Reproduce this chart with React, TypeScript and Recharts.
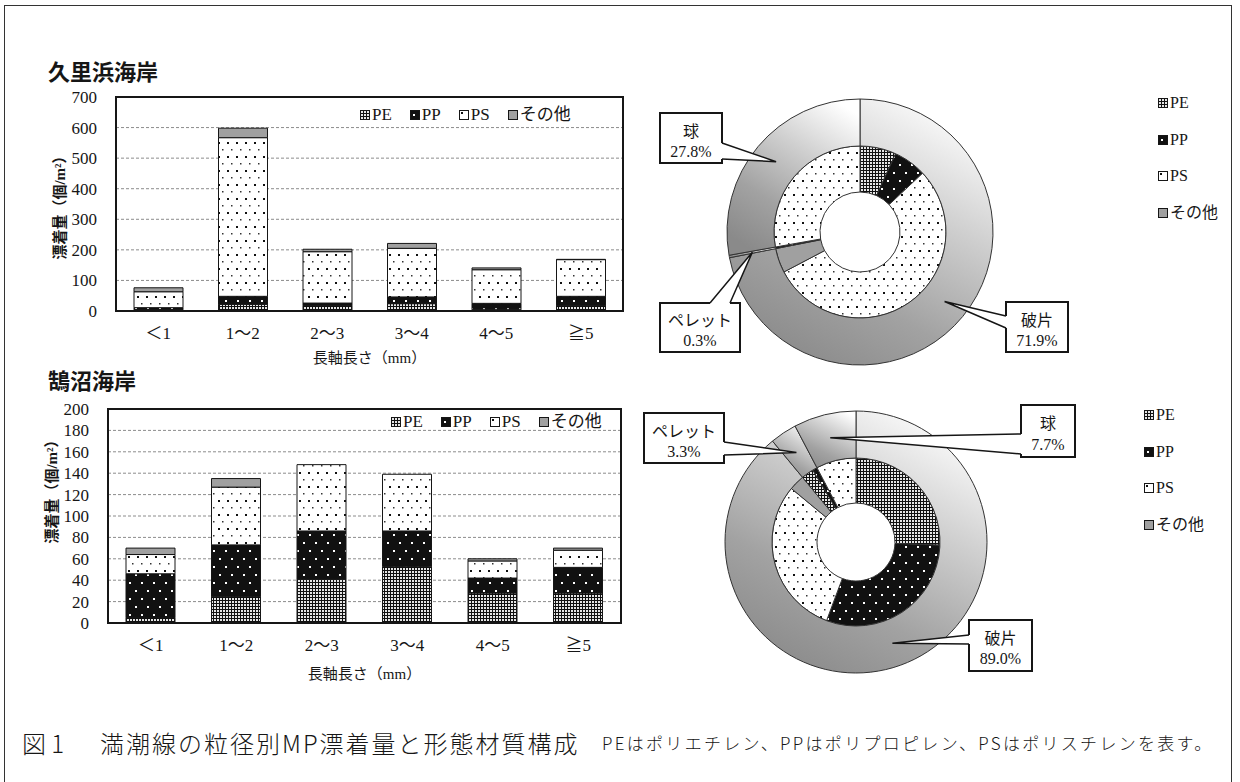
import React from "react";
import {
  BarChart,
  Bar,
  XAxis,
  YAxis,
  CartesianGrid,
  Legend,
  ReferenceArea,
  PieChart,
  Pie,
  Cell,
} from "recharts";

const SERIF = "'Liberation Serif', 'Noto Sans CJK JP', serif";
const CJK = "'Noto Sans CJK JP', 'Noto Sans CJK SC', sans-serif";
const INK = "#161616";

// 粒径区分と材質
const sizeClasses = ["＜1", "1～2", "2～3", "3～4", "4～5", "≧5"];
const materials = ["PE", "PP", "PS", "その他"];

// 久里浜海岸 漂着量（個/m²）
const kurihamaPE = [5, 22, 17, 24, 6, 17];
const kurihamaPP = [6, 26, 9, 22, 19, 31];
const kurihamaPS = [52, 519, 168, 159, 110, 120];
const kurihamaOther = [13, 31, 8, 16, 6, 1];
const kurihamaTicks = [0, 100, 200, 300, 400, 500, 600, 700];

// 鵠沼海岸 漂着量（個/m²）
const kugenumaPE = [5, 25, 41, 53, 28, 28];
const kugenumaPP = [41, 48, 45, 33, 14, 24];
const kugenumaPS = [18, 54, 62, 53, 16, 16];
const kugenumaOther = [6, 8, 0, 0, 2, 2];
const kugenumaTicks = [0, 20, 40, 60, 80, 100, 120, 140, 160, 180, 200];

// 形態構成（%）と形態ごとの材質内訳（PE, PP, PS, その他）
const formTypes = ["破片", "ペレット", "球"];
const kurihamaForms = [71.9, 0.3, 27.8];
const kurihamaFragment = [6.8, 6.2, 54.3, 4.6];
const kurihamaPellet = [0, 0.3, 0, 0];
const kurihamaSphere = [0, 0, 27.8, 0];
const kugenumaForms = [89.0, 3.3, 7.7];
const kugenumaFragment = [25.6, 30.1, 30.3, 3.0];
const kugenumaPellet = [2.4, 0.9, 0, 0];
const kugenumaSphere = [0, 0, 7.7, 0];

const fillFor: Record<string, string> = {
  PE: "url(#patPE)",
  PP: "url(#patPP)",
  PS: "url(#patPS)",
  その他: "#a0a0a0",
};

function barRows(pe: number[], pp: number[], ps: number[], other: number[]) {
  return sizeClasses.map((s, i) => ({
    size: s,
    PE: pe[i],
    PP: pp[i],
    PS: ps[i],
    その他: other[i],
  }));
}

function innerRows(parts: number[][]) {
  const rows: { name: string; material: string; value: number }[] = [];
  parts.forEach((vals, f) => {
    vals.forEach((v, m) => {
      if (v > 0) rows.push({ name: formTypes[f] + materials[m], material: materials[m], value: v });
    });
  });
  return rows;
}

function formRows(vals: number[]) {
  return formTypes.map((f, i) => ({ name: f, value: vals[i] }));
}

// callout boxes, offsets relative to the donut centre
type Callout = { bx: number; by: number; w: number; h: number; side: string; a: number; b: number };
const kurihamaCallouts: Record<string, Callout> = {
  破片: { bx: 146, by: 70, w: 62, h: 50, side: "left", a: 14, b: 26 },
  球: { bx: -200, by: -119, w: 62, h: 50, side: "right", a: 30, b: 46 },
  ペレット: { bx: -200, by: 71, w: 80, h: 49, side: "top", a: 50, b: 70 },
};
const kugenumaCallouts: Record<string, Callout> = {
  破片: { bx: 113, by: 78, w: 63, h: 51, side: "left", a: 15, b: 24 },
  球: { bx: 165, by: -137, w: 54, h: 52, side: "left", a: 29, b: 49 },
  ペレット: { bx: -212, by: -129, w: 80, h: 50, side: "right", a: 29, b: 42 },
};

function makeCallout(cfg: Record<string, Callout>) {
  return (p: any) => {
    const c = cfg[p.name];
    if (!c) return null;
    const RAD = Math.PI / 180;
    const r = (p.innerRadius + p.outerRadius) / 2;
    const tx = p.cx + r * Math.cos(-p.midAngle * RAD);
    const ty = p.cy + r * Math.sin(-p.midAngle * RAD);
    const x = p.cx + c.bx;
    const y = p.cy + c.by;
    let a: number[], b: number[];
    if (c.side === "left") {
      a = [x, y + c.a];
      b = [x, y + c.b];
    } else if (c.side === "right") {
      a = [x + c.w, y + c.a];
      b = [x + c.w, y + c.b];
    } else {
      a = [x + c.a, y];
      b = [x + c.b, y];
    }
    return (
      <g>
        <rect x={x} y={y} width={c.w} height={c.h} fill="#fff" stroke={INK} strokeWidth={2} />
        <polygon points={`${a[0]},${a[1]} ${tx},${ty} ${b[0]},${b[1]}`} fill="#fff" stroke="none" />
        <line x1={a[0]} y1={a[1]} x2={b[0]} y2={b[1]} stroke="#fff" strokeWidth={3} />
        <polyline points={`${a[0]},${a[1]} ${tx},${ty} ${b[0]},${b[1]}`} fill="none" stroke={INK} strokeWidth={1.5} />
        <text x={x + c.w / 2} y={y + c.h * 0.33} textAnchor="middle" dominantBaseline="central" fontFamily={CJK} fontSize={16} fill={INK}>
          {p.name}
        </text>
        <text x={x + c.w / 2} y={y + c.h * 0.76} textAnchor="middle" dominantBaseline="central" fontFamily={SERIF} fontSize={16} fill={INK}>
          {`${Number(p.value).toFixed(1)}%`}
        </text>
      </g>
    );
  };
}

function Swatch({ m }: { m: string }) {
  return (
    <svg width={10} height={10} style={{ marginRight: 2, flex: "none" }}>
      <rect x={0.5} y={0.5} width={9} height={9} fill={fillFor[m]} stroke={INK} strokeWidth={1} />
    </svg>
  );
}

function BarLegend() {
  return (
    <div style={{ display: "flex", alignItems: "center", fontFamily: SERIF, fontSize: 17, color: INK, lineHeight: "20px" }}>
      {materials.map((m) => (
        <span key={m} style={{ display: "flex", alignItems: "center", marginRight: 18 }}>
          <Swatch m={m} />
          {m}
        </span>
      ))}
    </div>
  );
}

function PieLegend() {
  return (
    <div style={{ fontFamily: SERIF, fontSize: 16, color: INK, lineHeight: "20px" }}>
      {materials.map((m) => (
        <div key={m} style={{ display: "flex", alignItems: "center", height: 36.5 }}>
          <Swatch m={m} />
          {m}
        </div>
      ))}
    </div>
  );
}

const tickStyle = { fontFamily: SERIF, fontSize: 17, fill: INK };
const border = { stroke: INK, strokeWidth: 2 };

function makeYLabel(shift: number) {
  return (props: any) => {
    const vb = props.viewBox || {};
    const lx = vb.x + 4;
    const ly = vb.y + vb.height / 2 + shift;
    return (
      <text x={lx} y={ly} transform={`rotate(-90, ${lx}, ${ly})`} textAnchor="middle" dominantBaseline="central" fontFamily={SERIF} fontWeight={700} fontSize={15} fill={INK}>
        漂着量（個/m²）
      </text>
    );
  };
}

function StackedBars({ rows, ticks, max, width, height, margin, xHeight, legendPos, labelShift }: any) {
  return (
    <BarChart width={width} height={height} data={rows} margin={margin} barSize={49}>
      <CartesianGrid vertical={false} stroke="#8c8c8c" strokeDasharray="3 2" />
      <XAxis dataKey="size" tick={tickStyle} tickLine={false} axisLine={border} tickMargin={10} height={xHeight} interval={0}
        label={{ value: "長軸長さ（mm）", position: "insideBottom", offset: 0, style: { fontFamily: SERIF, fontSize: 15, fill: INK } }} />
      <YAxis type="number" domain={[0, max]} ticks={ticks} interval={0} tick={tickStyle} tickLine={false} axisLine={border} tickMargin={13} width={60} label={{ content: makeYLabel(labelShift) }} />
      {materials.map((m) => (
        <Bar key={m} dataKey={m} stackId="s" fill={fillFor[m]} stroke={INK} strokeWidth={1} isAnimationActive={false} />
      ))}
      <ReferenceArea y1={0} y2={max} fill="none" stroke={INK} strokeWidth={2} ifOverflow="visible" />
      <Legend content={<BarLegend />} layout="horizontal" align="center" verticalAlign="middle" wrapperStyle={{ top: legendPos.top, left: legendPos.left, width: "auto", height: "auto" }} />
    </BarChart>
  );
}

function Donut({ inner, outer, callouts, cx, cy, radii, legendPos }: any) {
  return (
    <PieChart width={620} height={310} margin={{ top: 0, right: 0, bottom: 0, left: 0 }}>
      <Pie data={inner} dataKey="value" cx={cx} cy={cy} innerRadius={radii[0]} outerRadius={radii[1]} startAngle={90} endAngle={-270} stroke="#333" strokeWidth={1} isAnimationActive={false}>
        {inner.map((d: any) => (
          <Cell key={d.name} fill={fillFor[d.material]} />
        ))}
      </Pie>
      <Pie data={outer} dataKey="value" cx={cx} cy={cy} innerRadius={radii[1]} outerRadius={radii[2]} startAngle={90} endAngle={-270} stroke="#333" strokeWidth={1} isAnimationActive={false} label={makeCallout(callouts)} labelLine={false}>
        {outer.map((d: any) => (
          <Cell key={d.name} fill="url(#ringGrad)" />
        ))}
      </Pie>
      <Legend content={<PieLegend />} layout="vertical" align="center" verticalAlign="middle" wrapperStyle={{ top: legendPos.top, left: legendPos.left, width: "auto", height: "auto" }} />
    </PieChart>
  );
}

export default function App() {
  const abs = (left: number, top: number): React.CSSProperties => ({ position: "absolute", left, top });
  return (
    <div style={{ position: "absolute", left: 0, top: 0, width: 1240, height: 782, overflow: "hidden", background: "#fff" }}>
      <svg width={0} height={0} style={{ position: "absolute" }}>
        <defs>
          <pattern id="patPE" width={3} height={3} patternUnits="userSpaceOnUse">
            <rect width={3} height={3} fill="#e6e6e6" />
            <rect width={3} height={1} fill="#111" />
            <rect width={1} height={3} fill="#111" />
          </pattern>
          <pattern id="patPP" width={12} height={16} patternUnits="userSpaceOnUse">
            <rect width={12} height={16} fill="#111" />
            <rect x={3} y={4} width={2} height={2} fill="#fff" />
            <rect x={9} y={12} width={2} height={2} fill="#fff" />
          </pattern>
          <pattern id="patPS" width={9} height={14} patternUnits="userSpaceOnUse">
            <rect width={9} height={14} fill="#fff" />
            <rect x={2} y={2} width={2} height={2} fill="#111" />
            <rect x={6} y={9} width={1.5} height={1.5} fill="#333" />
          </pattern>
          <linearGradient id="ringGrad" x1="0.8" y1="0" x2="0.25" y2="1">
            <stop offset="0" stopColor="#ffffff" />
            <stop offset="0.35" stopColor="#cfcfcf" />
            <stop offset="0.7" stopColor="#a2a2a2" />
            <stop offset="1" stopColor="#8a8a8a" />
          </linearGradient>
        </defs>
      </svg>

      <div style={{ position: "absolute", left: 4, top: 5, width: 1226, height: 820, border: "1.5px solid #333" }} />

      <div style={{ ...abs(48, 56), fontFamily: CJK, fontWeight: 700, fontSize: 22, lineHeight: "28px", color: INK }}>久里浜海岸</div>
      <div style={{ ...abs(48, 365), fontFamily: CJK, fontWeight: 700, fontSize: 22, lineHeight: "28px", color: INK }}>鵠沼海岸</div>

      <div style={abs(0, 0)}>
        <StackedBars rows={barRows(kurihamaPE, kurihamaPP, kurihamaPS, kurihamaOther)} ticks={kurihamaTicks} max={700}
          width={640} height={372} margin={{ top: 97, right: 17, bottom: 9, left: 56 }} xHeight={52} legendPos={{ top: 105, left: 360 }} labelShift={0} />
      </div>
      <div style={abs(0, 330)}>
        <StackedBars rows={barRows(kugenumaPE, kugenumaPP, kugenumaPS, kugenumaOther)} ticks={kugenumaTicks} max={200}
          width={640} height={360} margin={{ top: 79, right: 19, bottom: 11, left: 48 }} xHeight={56} legendPos={{ top: 82, left: 391 }} labelShift={-28} />
      </div>

      <div style={abs(620, 80)}>
        <Donut inner={innerRows([kurihamaFragment, kurihamaPellet, kurihamaSphere])} outer={formRows(kurihamaForms)} callouts={kurihamaCallouts}
          cx={240} cy={152} radii={[40, 86, 133]} legendPos={{ top: 5, left: 538 }} />
      </div>
      <div style={abs(620, 390)}>
        <Donut inner={innerRows([kugenumaFragment, kugenumaPellet, kugenumaSphere])} outer={formRows(kugenumaForms)} callouts={kugenumaCallouts}
          cx={236} cy={152} radii={[39, 84, 131]} legendPos={{ top: 7, left: 524 }} />
      </div>

      <div style={{ ...abs(22, 728), fontFamily: CJK, fontWeight: 300, fontSize: 24, lineHeight: "30px", color: INK, whiteSpace: "nowrap" }}>図 1</div>
      <div style={{ ...abs(100, 728), fontFamily: CJK, fontWeight: 300, fontSize: 24, lineHeight: "30px", letterSpacing: 2, color: INK, whiteSpace: "nowrap" }}>
        満潮線の粒径別MP漂着量と形態材質構成
      </div>
      <div style={{ ...abs(602, 732), fontFamily: CJK, fontWeight: 300, fontSize: 17, lineHeight: "22px", letterSpacing: 2.3, color: INK, whiteSpace: "nowrap" }}>
        PEはポリエチレン、PPはポリプロピレン、PSはポリスチレンを表す。
      </div>
    </div>
  );
}
